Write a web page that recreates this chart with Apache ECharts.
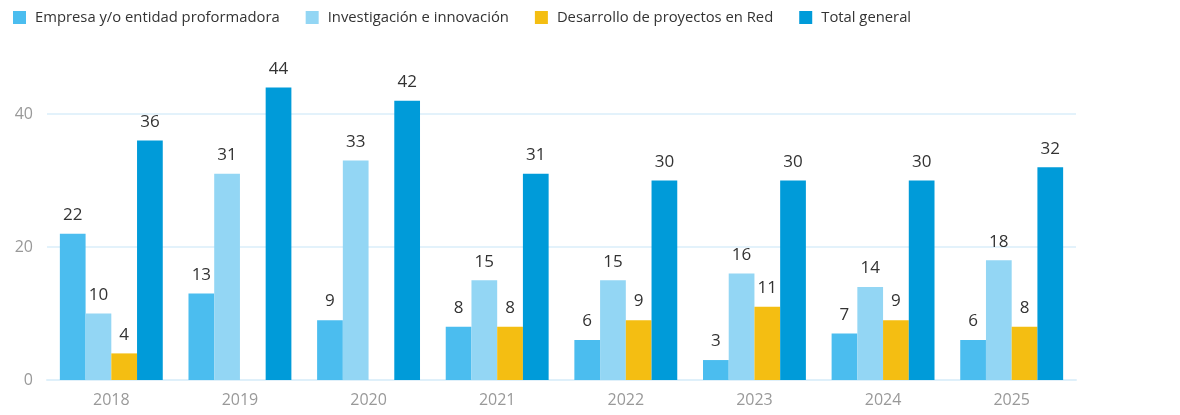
<!DOCTYPE html>
<html>
<head>
    <meta charset="utf-8">
    <title>Proyectos por año</title>
    <script src="https://cdn.jsdelivr.net/npm/echarts@6.0.0/dist/echarts.min.js"></script>
    <style>
        html, body { margin: 0; padding: 0; background: #fff; }
        #chart { width: 1180px; height: 415px; }
    </style>
</head>
<body>
    <div id="chart"></div>
    <script>
        // datos
        var years = ['2018', '2019', '2020', '2021', '2022', '2023', '2024', '2025'];
        var empresa = [22, 13, 9, 8, 6, 3, 7, 6];
        var investigacion = [10, 31, 33, 15, 15, 16, 14, 18];
        var desarrollo = [4, '-', '-', 8, 9, 11, 9, 8];
        var total = [36, 44, 42, 31, 30, 30, 30, 32];
        var yTicks = [0, 20, 40];

        var fontName = '"Open Sans", "Noto Sans", sans-serif';

        function barSerie(name, data, color) {
            return {
                name: name,
                type: 'bar',
                data: data,
                barGap: 0,
                barCategoryGap: '20%',
                itemStyle: { color: color },
                label: {
                    show: true,
                    position: 'top',
                    distance: 10,
                    color: '#333',
                    fontSize: 17,
                    fontFamily: fontName
                }
            };
        }

        var chart = echarts.init(document.getElementById('chart'));
        chart.setOption({
            animation: false,
            textStyle: { fontFamily: fontName },
            legend: {
                left: 8,
                top: 5,
                itemWidth: 13,
                itemHeight: 13,
                itemGap: 26,
                icon: 'rect',
                textStyle: { color: '#333', fontSize: 14.8, fontFamily: fontName, padding: [0, 0, 0, 4] }
            },
            grid: { left: 47, right: 104, top: 47.5, bottom: 35 },
            xAxis: {
                type: 'category',
                data: years,
                axisTick: { show: false },
                axisLine: { lineStyle: { color: '#dff0fa', width: 2 } },
                axisLabel: { color: '#999', fontSize: 16, margin: 12 }
            },
            yAxis: {
                type: 'value',
                min: yTicks[0],
                max: 50,
                interval: 20,
                axisLabel: { color: '#999', fontSize: 16, showMaxLabel: false, margin: 14 },
                splitLine: { showMaxLine: false, lineStyle: { color: '#e3f2fb', width: 2 } },
                axisLine: { show: false },
                axisTick: { show: false }
            },
            series: [
                barSerie('Empresa y/o entidad proformadora', empresa, '#4bbdef'),
                barSerie('Investigación e innovación', investigacion, '#93d6f4'),
                barSerie('Desarrollo de proyectos en Red', desarrollo, '#f4be12'),
                barSerie('Total general', total, '#009bd9')
            ]
        });
    </script>
</body>
</html>
